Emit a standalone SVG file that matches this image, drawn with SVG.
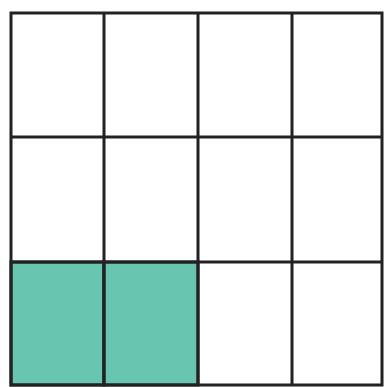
<svg xmlns="http://www.w3.org/2000/svg" width="385" height="387" viewBox="0 0 385 387">
<style>
.cell{fill:#ffffff;stroke:#222222;stroke-width:3}
.shaded{fill:#68c6b0}
</style>
<rect width="385" height="387" fill="#ffffff"/>
<g id="grid">
<rect id="r3c1" class="cell shaded" x="11" y="262" width="93" height="123"/>
<rect id="r3c2" class="cell shaded" x="104" y="262" width="94" height="123"/>
<g id="lines" stroke="#222222" stroke-width="3" fill="none">
<rect x="11" y="13" width="371" height="372"/>
<line x1="104" y1="13" x2="104" y2="385"/>
<line x1="198" y1="13" x2="198" y2="385"/>
<line x1="292" y1="13" x2="292" y2="385"/>
<line x1="11" y1="137" x2="382" y2="137"/>
<line x1="11" y1="262" x2="382" y2="262"/>
</g>
</g>
</svg>
